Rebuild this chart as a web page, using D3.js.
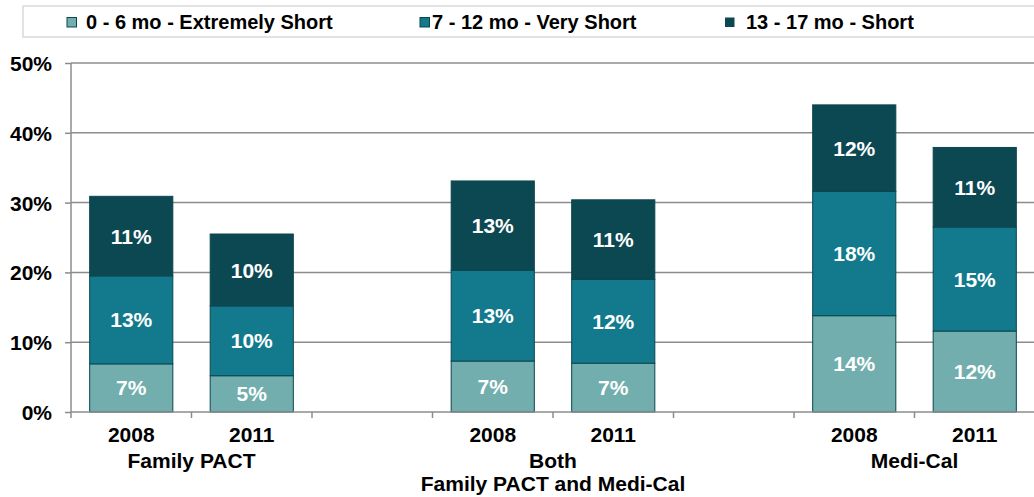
<!DOCTYPE html>
<html>
<head>
<meta charset="utf-8">
<script src="https://cdn.jsdelivr.net/npm/d3@7"></script>
<style>
  body { margin: 0; background: #fff; }
  text { font-family: "Liberation Sans", Arial, sans-serif; font-weight: bold; }
</style>
</head>
<body>
<div id="viz"></div>
<script>
// chart values
const slots = ["FP2008", "FP2011", "gap1", "B2008", "B2011", "gap2", "MC2008", "MC2011"];
const years = ["2008", "2011", "", "2008", "2011", "", "2008", "2011"];
const groups = [["Family PACT"], ["Both", "Family PACT and Medi-Cal"], ["Medi-Cal"]];
const seriesNames = ["0 - 6 mo - Extremely Short", "7 - 12 mo - Very Short", "13 - 17 mo - Short"];
const extremelyShort = [6.9, 5.2, null, 7.3, 7.0, null, 13.8, 11.6];
const veryShort = [12.6, 10.0, null, 13.0, 12.0, null, 17.8, 14.9];
const short = [11.4, 10.3, null, 12.8, 11.4, null, 12.4, 11.4];
const yTicks = [0, 10, 20, 30, 40, 50];

const w = 1034, h = 497;
const colors = ["#72aead", "#137a8d", "#0c4852"];
const gridColor = "#8c8c8c";

const svg = d3.select("#viz").append("svg").attr("width", w).attr("height", h);

const x = d3.scaleBand().domain(slots).range([71, 1035]).paddingInner(0).paddingOuter(0);
const y = d3.scaleLinear().domain([0, 50]).range([412, 63]);

// legend box
const legend = svg.append("g").attr("id", "legend");
legend.append("rect").attr("x", 23).attr("y", 6).attr("width", 1030).attr("height", 31)
  .attr("fill", "#fff").attr("stroke", "#d9d9d9").attr("stroke-width", 1.5);
const legX = [67, 420, 725];
const legTextX = [86, 432, 746];
seriesNames.forEach((n, i) => {
  legend.append("rect").attr("x", legX[i]).attr("y", 17.5).attr("width", 9.5).attr("height", 9.5)
    .attr("fill", colors[i]).attr("stroke", i === 2 ? "none" : "#0b4650").attr("stroke-width", 1);
  legend.append("text").attr("x", legTextX[i]).attr("y", 29)
    .style("font-size", "20px").text(n);
});

// gridlines
svg.append("g").selectAll("line").data(yTicks.slice(1)).enter().append("line")
  .attr("x1", 71).attr("x2", w).attr("y1", d => y(d)).attr("y2", d => y(d))
  .attr("stroke", gridColor).attr("stroke-width", 1.5);

// y axis
const yAxis = svg.append("g").attr("transform", "translate(71,0)")
  .call(d3.axisLeft(y).tickValues(yTicks).tickSize(6).tickPadding(13).tickFormat(d => d + "%"));
yAxis.select(".domain").attr("stroke", gridColor).attr("stroke-width", 1.5).attr("d", "M0,63V412");
yAxis.selectAll(".tick line").attr("stroke", gridColor).attr("stroke-width", 1.5);
yAxis.selectAll(".tick text").attr("fill", "#000").attr("dy", "0.36em").style("font-size", "21px")
  .style("font-family", "Liberation Sans, Arial, sans-serif").style("font-weight", "bold");

// stacked bars
const rows = slots.map((s, i) => ({ slot: s, v0: extremelyShort[i], v1: veryShort[i], v2: short[i] }))
  .filter(d => d.v0 != null);
const stack = d3.stack().keys(["v0", "v1", "v2"])(rows);

const layers = svg.append("g").selectAll("g").data(stack).enter().append("g")
  .attr("fill", (d, i) => colors[i]);
layers.selectAll("rect").data(d => d).enter().append("rect")
  .attr("x", d => x(d.data.slot) + x.bandwidth() * 0.155)
  .attr("width", x.bandwidth() * 0.69)
  .attr("y", d => y(d[1]))
  .attr("height", d => y(d[0]) - y(d[1]))
  .attr("stroke", "#0b4650").attr("stroke-width", 1);

layers.selectAll("text").data(d => d).enter().append("text")
  .attr("x", d => x(d.data.slot) + x.bandwidth() / 2)
  .attr("y", d => (y(d[0]) + y(d[1])) / 2)
  .attr("dy", "0.36em")
  .attr("text-anchor", "middle")
  .attr("fill", "#fff")
  .style("font-size", "21px")
  .text(d => Math.round(d[1] - d[0]) + "%");

// x axis
const xAxisG = svg.append("g");
xAxisG.append("line").attr("x1", 71).attr("x2", w).attr("y1", 412).attr("y2", 412)
  .attr("stroke", gridColor).attr("stroke-width", 1.5);
xAxisG.selectAll(".tk").data(slots.concat(["end"])).enter().append("line")
  .attr("x1", (d, i) => 71 + i * x.step()).attr("x2", (d, i) => 71 + i * x.step())
  .attr("y1", 412).attr("y2", 418).attr("stroke", gridColor).attr("stroke-width", 1.5);
xAxisG.selectAll(".yr").data(slots).enter().append("text")
  .attr("x", d => x(d) + x.bandwidth() / 2).attr("y", 442)
  .attr("text-anchor", "middle").style("font-size", "21px")
  .text((d, i) => years[i]);

// group labels
const groupCenters = [
  (x("FP2008") + x("FP2011") + x.bandwidth()) / 2,
  (x("B2008") + x("B2011") + x.bandwidth()) / 2,
  (x("MC2008") + x("MC2011") + x.bandwidth()) / 2
];
groups.forEach((lines, gi) => {
  lines.forEach((t, li) => {
    svg.append("text").attr("x", groupCenters[gi]).attr("y", 468 + li * 23)
      .attr("text-anchor", "middle").style("font-size", "21px").text(t);
  });
});
</script>
</body>
</html>
